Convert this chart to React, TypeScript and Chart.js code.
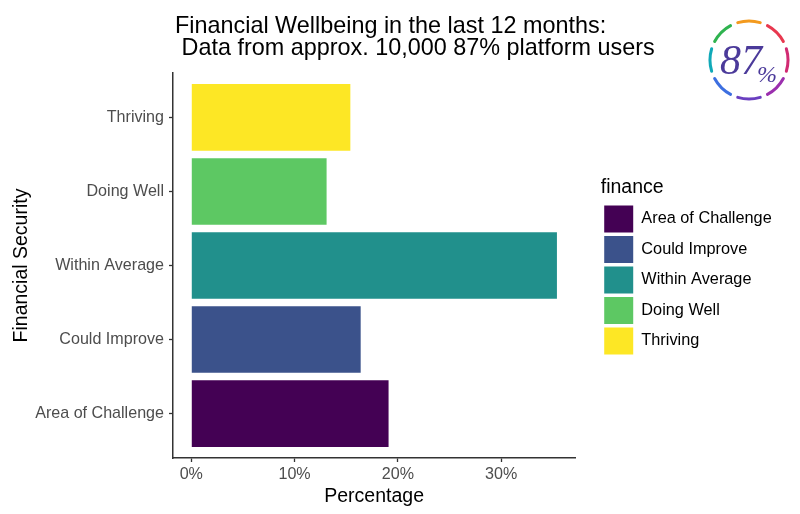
import React, { useEffect, useRef } from 'react';
import { Chart, registerables } from 'chart.js';

Chart.register(...registerables);

// ---- data ----
const categories = ['Area of Challenge', 'Could Improve', 'Within Average', 'Doing Well', 'Thriving'];
const percentages = [19.1, 16.4, 35.4, 13.1, 15.4];
const barColors = ['#440154', '#3b528b', '#21908c', '#5dc863', '#fde725'];
const xTickValues = [0, 10, 20, 30];
const titleLines = ['Financial Wellbeing in the last 12 months:', ' Data from approx. 10,000 87% platform users'];
const legendTitle = 'finance';
const xAxisTitle = 'Percentage';
const yAxisTitle = 'Financial Security';
const logoText = '87';
const logoPercent = '%';
const logoColors = ['#f39a1e', '#e8384f', '#d12a72', '#9b2fae', '#6a3fc0', '#3d6fe0', '#10a9b8', '#2fb34f'];

const FONT = '"Liberation Sans", Arial, sans-serif';

const overlayPlugin = {
  id: 'overlay',
  afterDraw(chart: any) {
    const ctx = chart.ctx as CanvasRenderingContext2D;
    ctx.save();
    // title
    ctx.fillStyle = '#000';
    ctx.font = `23.4px ${FONT}`;
    ctx.textAlign = 'left';
    ctx.textBaseline = 'alphabetic';
    const x = chart.chartArea.left + 2;
    titleLines.forEach((t, i) => ctx.fillText(t, x, 33 + i * 22));

    // logo ring
    const cx = 749, cy = 60, r = 39;
    ctx.lineWidth = 3;
    ctx.lineCap = 'round';
    const n = logoColors.length;
    const step = (Math.PI * 2) / n;
    const gap = 0.2;
    logoColors.forEach((c, i) => {
      const mid = -Math.PI / 2 + i * step;
      ctx.beginPath();
      ctx.strokeStyle = c;
      ctx.arc(cx, cy, r, mid - step / 2 + gap / 2, mid + step / 2 - gap / 2);
      ctx.stroke();
    });
    ctx.fillStyle = '#4b3a9a';
    ctx.font = `italic 42px "Liberation Serif", serif`;
    ctx.textAlign = 'left';
    ctx.fillText(logoText, 720, 74);
    ctx.font = `italic 24px "Liberation Serif", serif`;
    ctx.fillText(logoPercent, 757, 82);
    ctx.restore();
  },
};

export default function App() {
  const ref = useRef<HTMLCanvasElement>(null);

  useEffect(() => {
    if (!ref.current) return;
    Chart.defaults.font.family = FONT;
    const data = categories.map((c, i) => ({ x: percentages[i], y: i }));
    const chart = new Chart(ref.current, {
      type: 'bar',
      data: {
        datasets: [
          {
            label: 'finance',
            data: data as any,
            backgroundColor: barColors,
            borderWidth: 0,
            barPercentage: 0.9,
            categoryPercentage: 1,
          },
        ],
      },
      options: {
        indexAxis: 'y',
        animation: false,
        responsive: false,
        devicePixelRatio: 1,
        layout: { padding: { top: 73, left: 0, right: 18.3, bottom: 0 } },
        scales: {
          x: {
            type: 'linear',
            min: -1.77,
            max: 37.17,
            offset: false,
            afterBuildTicks: (s: any) => {
              s.ticks = xTickValues.map((v) => ({ value: v }));
            },
            afterFit: (s: any) => {
              s.height = 56;
            },
            ticks: {
              callback: (v: any) => `${v}%`,
              color: '#4d4d4d',
              font: { size: 16.1, family: FONT },
              padding: 3.4,
              maxRotation: 0,
              autoSkip: false,
            },
            grid: { offset: false, drawOnChartArea: false, drawTicks: true, tickLength: 4, tickColor: '#333', tickWidth: 1.3 },
            border: { display: true, color: '#333', width: 1.5 },
            title: {
              display: true,
              text: xAxisTitle,
              color: '#000',
              font: { size: 19.5, family: FONT },
              padding: { top: 0, bottom: 5.3 },
            },
          },
          y: {
            type: 'linear',
            min: -0.6,
            max: 4.6,
            offset: false,
            afterBuildTicks: (s: any) => {
              s.ticks = categories.map((_, i) => ({ value: i }));
            },
            afterFit: (s: any) => {
              s.width = 173;
            },
            ticks: {
              callback: (v: any) => categories[v as number],
              color: '#4d4d4d',
              font: { size: 16.1, family: FONT },
              padding: 5,
              autoSkip: false,
            },
            grid: { offset: false, drawOnChartArea: false, drawTicks: true, tickLength: 4, tickColor: '#333', tickWidth: 1.3 },
            border: { display: true, color: '#333', width: 1.5 },
            title: {
              display: true,
              text: yAxisTitle,
              color: '#000',
              font: { size: 19.5, family: FONT },
              padding: { top: 10, bottom: 0 },
            },
          },
          y2: {
            type: 'linear',
            position: 'right',
            display: true,
            grid: { display: false },
            ticks: { display: false },
            border: { display: false },
            afterFit: (s: any) => {
              s.width = 25.5;
            },
          },
        },
        plugins: {
          tooltip: { enabled: false },
          title: { display: false },
          legend: {
            display: true,
            position: 'right',
            align: 'center',
            fullSize: false,
            maxWidth: 260,
            title: {
              display: true,
              text: legendTitle,
              color: '#000',
              font: { size: 19.5, family: FONT },
              padding: { top: 4.5, bottom: 0.9 },
              position: 'start',
            },
            labels: {
              boxWidth: 29,
              boxHeight: 27,
              padding: 3.5,
              color: '#1a1a1a',
              font: { size: 16.3, family: FONT },
              generateLabels: () =>
                categories.map((c, i) => ({
                  text: c,
                  fillStyle: barColors[i],
                  strokeStyle: barColors[i],
                  lineWidth: 0,
                  hidden: false,
                  index: i,
                  datasetIndex: 0,
                })),
            },
          },
        },
      },
      plugins: [overlayPlugin],
    } as any);
    return () => chart.destroy();
  }, []);

  return (
    <div style={{ position: 'absolute', left: 0, top: 0, width: 800, height: 514, background: '#fff' }}>
      <canvas ref={ref} width={800} height={514} style={{ display: 'block', width: 800, height: 514 }} />
    </div>
  );
}
